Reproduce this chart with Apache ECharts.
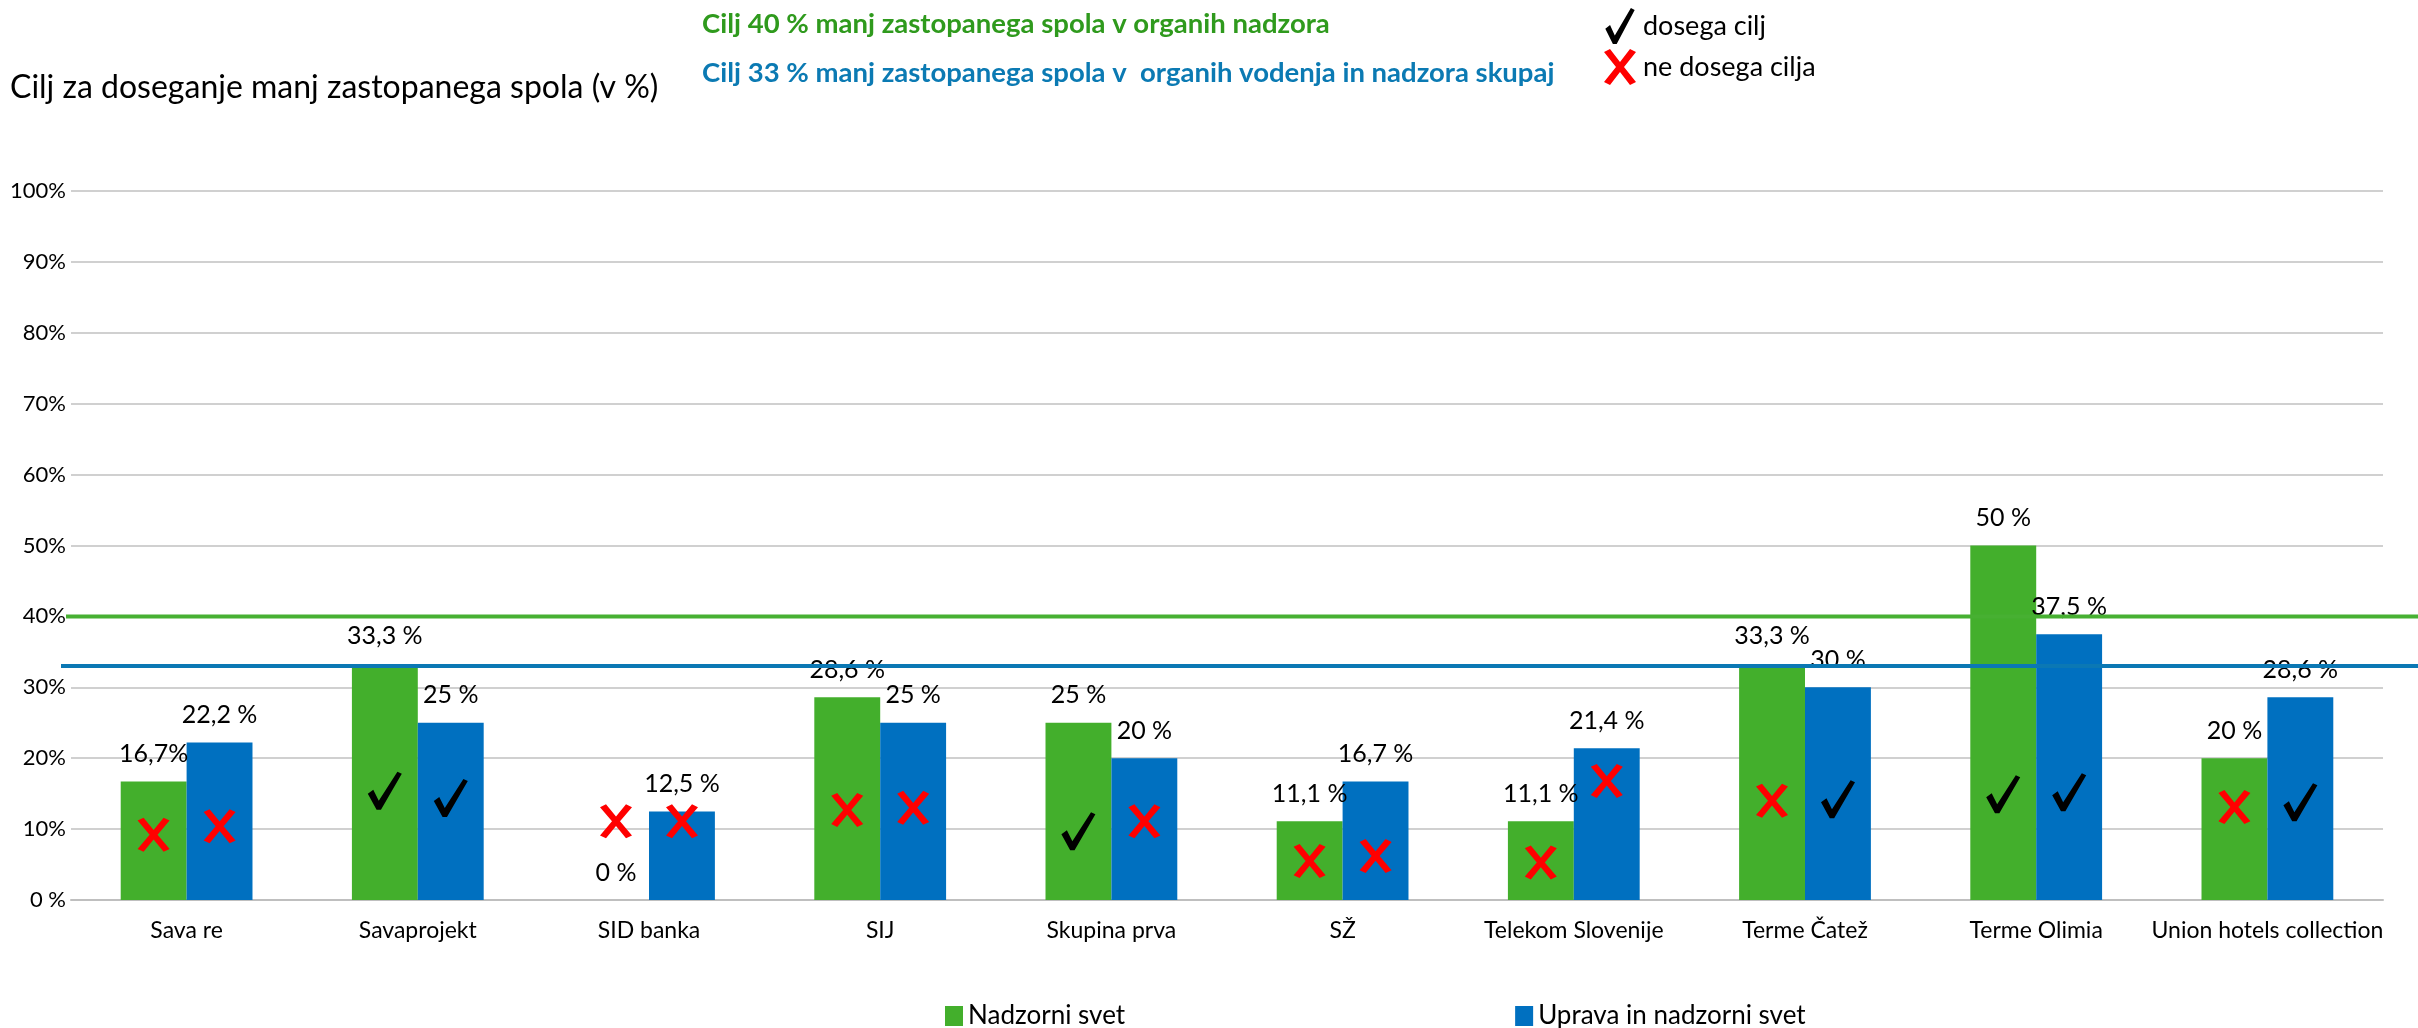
<!DOCTYPE html>
<html>
<head>
<meta charset="utf-8">
<style>
  html, body { margin: 0; padding: 0; background: #fff; }
  #chart { width: 2418px; height: 1028px; }
</style>
<script src="https://cdn.jsdelivr.net/npm/echarts@6/dist/echarts.min.js"></script>
</head>
<body>
<div id="chart"></div>
<script>
// podatki
var categories = ['Sava re', 'Savaprojekt', 'SID banka', 'SIJ', 'Skupina prva', 'SŽ',
    'Telekom Slovenije', 'Terme Čatež', 'Terme Olimia', 'Union hotels collection'];

var nadzorni = [16.7, 33.3, 0, 28.6, 25, 11.1, 11.1, 33.3, 50, 20];
var uprava = [22.2, 25, 12.5, 25, 20, 16.7, 21.4, 30, 37.5, 28.6];

var nadzorniLabels = ['16,7%', '33,3 %', '0 %', '28,6 %', '25 %', '11,1 %', '11,1 %', '33,3 %', '50 %', '20 %'];
var upravaLabels = ['22,2 %', '25 %', '12,5 %', '25 %', '20 %', '16,7 %', '21,4 %', '30 %', '37,5 %', '28,6 %'];

// ali doseže cilj (check / x) in višina oznake
var nadzorniGoal = ['x', 'check', 'x', 'x', 'check', 'x', 'x', 'x', 'check', 'x'];
var upravaGoal = ['x', 'check', 'x', 'x', 'x', 'x', 'x', 'check', 'check', 'check'];
var nadzorniMarkY = [9.2, 15.4, 11.1, 12.7, 9.7, 5.5, 5.3, 14.0, 14.9, 13.1];
var upravaMarkY = [10.4, 14.4, 11.1, 13.0, 11.1, 6.2, 16.8, 14.2, 15.2, 13.8];

var yTicks = [0, 10, 20, 30, 40, 50, 60, 70, 80, 90, 100];

var targetNadzor = 40;
var targetSkupaj = 33;

var FONT = 'Lato';
var GREEN = '#43AF2C';
var BLUE = '#0070C0';

var checkPath = 'path://M0,22 L5,18 L10,29 L27,0 L31,2 L12,38 L8,38 Z';
var xPath = 'path://M0,3 L6,0 L16,13 L26,0 L32,3 L20,18 L32,33 L26,36 L16,23 L6,36 L0,33 L12,18 Z';

var half = 33;

function buildMarks(goal, markY, kind, offset) {
    var out = [];
    goal.forEach(function (g, i) {
        if (g === kind) {
            out.push({ value: [i, markY[i]], symbolOffset: [offset, 0] });
        }
    });
    return out;
}

var checkData = buildMarks(nadzorniGoal, nadzorniMarkY, 'check', -half)
    .concat(buildMarks(upravaGoal, upravaMarkY, 'check', half));
var xData = buildMarks(nadzorniGoal, nadzorniMarkY, 'x', -half)
    .concat(buildMarks(upravaGoal, upravaMarkY, 'x', half));

var chart = echarts.init(document.getElementById('chart'));

var option = {
    animation: false,
    backgroundColor: '#fff',
    textStyle: { fontFamily: FONT },
    title: [
        {
            text: 'Cilj za doseganje manj zastopanega spola (v %)',
            left: 10, top: 72, padding: 0,
            textStyle: { fontFamily: FONT, fontSize: 32, fontWeight: 'normal', color: '#000' }
        },
        {
            text: 'Cilj 40 % manj zastopanega spola v organih nadzora',
            left: 702, top: 10, padding: 0,
            textStyle: { fontFamily: FONT, fontSize: 27.5, fontWeight: 'bold', color: '#2F9A1D' }
        },
        {
            text: 'Cilj 33 % manj zastopanega spola v  organih vodenja in nadzora skupaj',
            left: 702, top: 59, padding: 0,
            textStyle: { fontFamily: FONT, fontSize: 27.5, fontWeight: 'bold', color: '#0B7AB3' }
        }
    ],
    legend: [
        {
            data: ['Nadzorni svet', 'Uprava in nadzorni svet'],
            left: 945, top: 1003, padding: 0,
            icon: 'rect', itemWidth: 18, itemHeight: 20, itemGap: 390,
            textStyle: { fontFamily: FONT, fontSize: 26, color: '#000' }
        },
        {
            data: [{ name: 'dosega cilj', icon: checkPath }, { name: 'ne dosega cilja', icon: xPath }],
            orient: 'vertical', left: 1604, top: 8, padding: 0,
            itemWidth: 36, itemHeight: 36, itemGap: 5,
            textStyle: { fontFamily: FONT, fontSize: 27, color: '#000' }
        }
    ],
    grid: { left: 71, right: 35, top: 191, bottom: 128, outerBoundsMode: 'none' },
    xAxis: {
        type: 'category',
        data: categories,
        axisLine: { lineStyle: { color: '#BFBFBF', width: 2 } },
        axisTick: { show: false },
        axisLabel: { fontFamily: FONT, fontSize: 23, color: '#000', margin: 19, interval: 0 }
    },
    yAxis: {
        type: 'value',
        min: yTicks[0], max: yTicks[yTicks.length - 1], interval: 10,
        axisLine: { show: false },
        axisTick: { show: false },
        axisLabel: {
            fontFamily: FONT, fontSize: 22, color: '#000', margin: 5,
            formatter: function (v) { return v === 0 ? '0 %' : v + '%'; }
        },
        splitLine: { lineStyle: { color: '#D0D0D0', width: 2 } }
    },
    series: [
        {
            name: 'Nadzorni svet',
            type: 'bar',
            data: nadzorni,
            barGap: '0%',
            barCategoryGap: '43%',
            itemStyle: { color: GREEN },
            label: {
                show: true, position: 'top', distance: 15,
                fontFamily: FONT, fontSize: 25, color: '#000',
                formatter: function (p) { return nadzorniLabels[p.dataIndex]; }
            }
        },
        {
            name: 'Uprava in nadzorni svet',
            type: 'bar',
            data: uprava,
            itemStyle: { color: BLUE },
            label: {
                show: true, position: 'top', distance: 15,
                fontFamily: FONT, fontSize: 25, color: '#000',
                formatter: function (p) { return upravaLabels[p.dataIndex]; }
            }
        },
        {
            name: 'dosega cilj',
            type: 'scatter',
            data: checkData,
            symbol: checkPath,
            symbolSize: [34, 38],
            itemStyle: { color: '#000', opacity: 1 },
            z: 5
        },
        {
            name: 'ne dosega cilja',
            type: 'scatter',
            data: xData,
            symbol: xPath,
            symbolSize: [32, 34],
            itemStyle: { color: '#FF0000', opacity: 1 },
            z: 5
        }
    ]
};

chart.setOption(option);

// ciljne črte (40 % in 33 %) čez celo širino
var yGreen = chart.convertToPixel({ yAxisIndex: 0 }, targetNadzor);
var yBlue = chart.convertToPixel({ yAxisIndex: 0 }, targetSkupaj);

chart.setOption({
    graphic: [
        {
            type: 'line', z: 100,
            shape: { x1: 66, y1: yGreen, x2: 2418, y2: yGreen },
            style: { stroke: '#47B032', lineWidth: 4 }
        },
        {
            type: 'line', z: 100,
            shape: { x1: 61, y1: yBlue, x2: 2418, y2: yBlue },
            style: { stroke: '#0B78B4', lineWidth: 4 }
        }
    ]
});
</script>
</body>
</html>
